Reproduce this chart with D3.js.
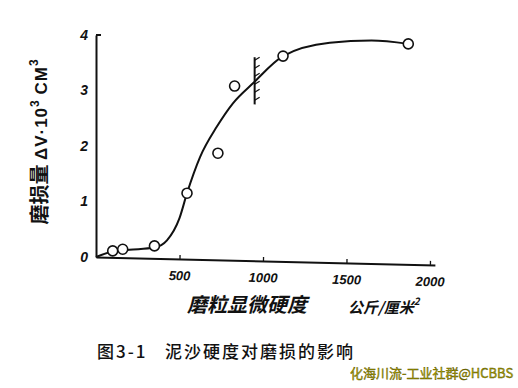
<!DOCTYPE html>
<html>
<head>
<meta charset="utf-8">
<script src="https://cdn.jsdelivr.net/npm/d3@7"></script>
<style>
  body { margin: 0; background: #fff; }
  svg { display: block; }
  .tick text { font-family: "Liberation Sans", sans-serif; font-style: italic; font-weight: bold; font-size: 13px; fill: #111; }
</style>
</head>
<body>
<div id="chart"></div>
<script>
// measured points (hardness, wear)
let hardness = [100, 160, 350, 545, 730, 830, 1120, 1870];
let wear = [0.11, 0.14, 0.2, 1.15, 1.87, 3.08, 3.62, 3.84];

// hand drawn trend curve
let curveX = [0, 100, 200, 350, 425, 500, 545, 623, 724, 820, 940, 1120, 1400, 1650, 1870];
let curveY = [0, 0.1, 0.13, 0.17, 0.3, 0.7, 1.15, 1.8, 2.35, 2.77, 3.13, 3.62, 3.86, 3.9, 3.84];

let xTicks = [500, 1000, 1500, 2000];
let yTicks = [0, 1, 2, 3, 4];
let hatchAt = 950;
let hatchRange = [2.75, 3.6];

let width = 518, height = 388;
let ink = "#111";

let svg = d3.select("#chart").append("svg")
  .attr("width", width)
  .attr("height", height);

let x = d3.scaleLinear().domain([0, 2030]).range([96, 435]);
let y = d3.scaleLinear().domain([0, 4]).range([257, 35]);

// x axis (slightly tilted like the scan)
let xg = svg.append("g")
  .attr("transform", "translate(0,257) rotate(1.35,96,0)")
  .call(d3.axisBottom(x).tickValues(xTicks).tickFormat(d3.format("d"))
    .tickSizeInner(-4).tickSizeOuter(0).tickPadding(12));
xg.select(".domain").attr("stroke", ink).attr("stroke-width", 2);
xg.selectAll(".tick line").attr("stroke", ink).attr("stroke-width", 1.3);

// y axis
let yg = svg.append("g")
  .attr("transform", "translate(96,0)")
  .call(d3.axisLeft(y).tickValues(yTicks).tickFormat(d3.format("d")).tickSize(0).tickPadding(8));
yg.select(".domain").attr("stroke", ink).attr("stroke-width", 2);
yg.selectAll(".tick text").style("font-size", "14px");
yg.append("line")
  .attr("x1", 0).attr("x2", 5)
  .attr("y1", y(4)).attr("y2", y(4))
  .attr("stroke", ink).attr("stroke-width", 2);

// curve
let line = d3.line()
  .x(d => x(d[0]))
  .y(d => y(d[1]))
  .curve(d3.curveMonotoneX);
svg.append("path")
  .datum(d3.zip(curveX, curveY))
  .attr("d", line)
  .attr("fill", "none")
  .attr("stroke", ink)
  .attr("stroke-width", 2);

// hatch mark
let hx = x(hatchAt);
svg.append("line")
  .attr("x1", hx).attr("x2", hx)
  .attr("y1", y(hatchRange[1])).attr("y2", y(hatchRange[0]))
  .attr("stroke", ink).attr("stroke-width", 2);
let hatchTicks = d3.range(6).map(i => y(hatchRange[1]) + 3 + i * 8);
svg.selectAll(".hatch")
  .data(hatchTicks)
  .join("line")
  .attr("class", "hatch")
  .attr("x1", hx).attr("x2", hx + 5)
  .attr("y1", d => d).attr("y2", d => d - 3)
  .attr("stroke", ink).attr("stroke-width", 1.3);

// points
svg.selectAll(".pt")
  .data(d3.zip(hardness, wear))
  .join("circle")
  .attr("class", "pt")
  .attr("cx", d => x(d[0]))
  .attr("cy", d => y(d[1]))
  .attr("r", 5)
  .attr("fill", "#fff")
  .attr("stroke", ink)
  .attr("stroke-width", 1.6);

// y label
let latin = "'Liberation Sans', sans-serif";
let yl = svg.append("text")
  .attr("transform", "translate(47,142) rotate(-90)")
  .attr("text-anchor", "middle")
  .attr("fill", ink)
  .style("font-family", "'Noto Sans CJK SC', sans-serif")
  .style("font-weight", "bold");
yl.append("tspan").style("font-size", "20px").text("磨损量 ");
yl.append("tspan").style("font-size", "17px").style("font-family", latin).attr("letter-spacing", 1).text("ΔV·10");
yl.append("tspan").style("font-size", "12px").attr("dy", -8).style("font-family", latin).text("3");
yl.append("tspan").style("font-size", "17px").attr("dy", 8).style("font-family", latin).attr("letter-spacing", 1).text(" CM");
yl.append("tspan").style("font-size", "12px").attr("dy", -9).style("font-family", latin).text("3");

// x label
svg.append("text")
  .attr("x", 187).attr("y", 312)
  .attr("fill", ink)
  .style("font-family", "'Noto Sans CJK SC', sans-serif")
  .style("font-weight", "bold")
  .style("font-size", "20px")
  .style("font-style", "italic")
  .text("磨粒显微硬度");
let unit = svg.append("text")
  .attr("x", 348).attr("y", 313)
  .attr("fill", ink)
  .style("font-family", "'Noto Sans CJK SC', sans-serif")
  .style("font-weight", "bold")
  .style("font-size", "15px")
  .style("font-style", "italic");
unit.append("tspan").text("公斤/厘米");
unit.append("tspan").attr("dy", -8).style("font-size", "10px").text("2");

// caption
let cap = svg.append("g")
  .attr("fill", ink)
  .style("font-family", "'Noto Sans CJK SC', sans-serif")
  .style("font-weight", "500")
  .style("font-size", "17px");
cap.append("text").attr("x", 97).attr("y", 358).attr("letter-spacing", 2).text("图3-1");
cap.append("text").attr("x", 165).attr("y", 358).attr("letter-spacing", 2).text("泥沙硬度对磨损的影响");

// watermark
svg.append("text")
  .attr("x", 350).attr("y", 378)
  .attr("fill", "#b0a800")
  .attr("stroke", "#5a5500")
  .attr("stroke-width", 0.4)
  .style("font-family", "'Noto Sans CJK SC', sans-serif")
  .style("font-size", "13px")
  .text("化海川流-工业社群@HCBBS");
</script>
</body>
</html>
